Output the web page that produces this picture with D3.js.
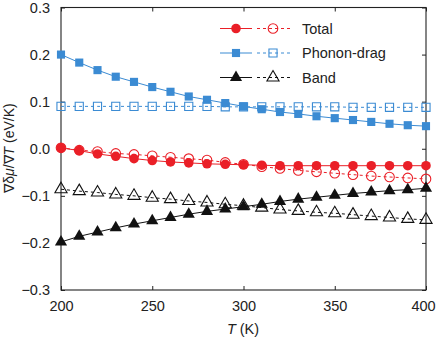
<!DOCTYPE html>
<html>
<head>
<meta charset="utf-8">
<style>
  body { margin: 0; background: #fff; }
  svg { font-family: "Liberation Sans", Arial, sans-serif; }
</style>
</head>
<body>
<svg width="436" height="342"></svg>
<script src="https://cdn.jsdelivr.net/npm/d3@7"></script>
<script>
// temperatures (K)
const temps = [200, 210, 220, 230, 240, 250, 260, 270, 280, 290, 300, 310, 320, 330, 340, 350, 360, 370, 380, 390, 400]
// total: solid (filled) and dashed (open)
const totalSolid = [0.002, -0.004, -0.011, -0.016, -0.021, -0.025, -0.028, -0.030, -0.032, -0.033, -0.034, -0.035, -0.036, -0.036, -0.036, -0.036, -0.036, -0.036, -0.036, -0.036, -0.036]
const totalOpen = [0.002, -0.003, -0.006, -0.010, -0.012, -0.015, -0.018, -0.021, -0.024, -0.029, -0.033, -0.038, -0.042, -0.046, -0.049, -0.052, -0.055, -0.058, -0.060, -0.062, -0.064]
// phonon-drag
const dragSolid = [0.200, 0.183, 0.167, 0.153, 0.142, 0.131, 0.121, 0.111, 0.104, 0.097, 0.090, 0.084, 0.078, 0.074, 0.069, 0.065, 0.061, 0.057, 0.053, 0.050, 0.048]
const dragOpen = [0.090, 0.090, 0.090, 0.090, 0.090, 0.090, 0.090, 0.090, 0.090, 0.089, 0.089, 0.089, 0.089, 0.089, 0.089, 0.089, 0.088, 0.088, 0.088, 0.088, 0.088]
// band
const bandSolid = [-0.198, -0.186, -0.177, -0.168, -0.160, -0.153, -0.146, -0.139, -0.133, -0.128, -0.123, -0.118, -0.112, -0.107, -0.103, -0.099, -0.095, -0.092, -0.089, -0.087, -0.084]
const bandOpen = [-0.086, -0.090, -0.093, -0.097, -0.100, -0.104, -0.107, -0.111, -0.114, -0.118, -0.121, -0.125, -0.129, -0.132, -0.135, -0.137, -0.140, -0.143, -0.146, -0.149, -0.151]

const xTicks = [200, 250, 300, 350, 400]
const yTicks = [-0.3, -0.2, -0.1, 0.0, 0.1, 0.2, 0.3]

const names = ["Total", "Phonon-drag", "Band"]
const colors = ["#ea1f27", "#3b8bd3", "#111111"]
const shapes = [d3.symbolCircle, d3.symbolSquare, d3.symbolTriangle]
const sizes = [72, 66, 64]

const svg = d3.select("svg")
const x = d3.scaleLinear().domain([200, 400]).range([61, 426])
const y = d3.scaleLinear().domain([-0.3, 0.3]).range([290, 7.5])

// frame
svg.append("rect")
  .attr("x", 61).attr("y", 7.5)
  .attr("width", 365).attr("height", 282.5)
  .attr("fill", "none").attr("stroke", "#222").attr("stroke-width", 1.1)

// inward ticks on four sides
const tk = 4
svg.append("g").attr("transform", "translate(0,290)")
  .call(d3.axisBottom(x).tickValues(xTicks).tickSize(-tk).tickFormat(d3.format("d")).tickPadding(11))
svg.append("g").attr("transform", "translate(0,7.5)")
  .call(d3.axisTop(x).tickValues(xTicks).tickSize(-tk).tickFormat(""))
svg.append("g").attr("transform", "translate(61,0)")
  .call(d3.axisLeft(y).tickValues(yTicks).tickSize(-tk).tickFormat(d3.format(".1f")).tickPadding(11))
svg.append("g").attr("transform", "translate(426,0)")
  .call(d3.axisRight(y).tickValues(yTicks).tickSize(-tk).tickFormat(""))
svg.selectAll(".domain").remove()
svg.selectAll(".tick line").attr("stroke", "#222")
svg.selectAll(".tick text").attr("font-size", 14.5).attr("fill", "#222")
  .attr("font-family", "Liberation Sans, Arial, sans-serif")
// keep the last x label inside the window
svg.selectAll(".tick text").filter(d => d === 400).attr("dx", -3)

// axis titles
svg.append("text")
  .attr("transform", "translate(14,148) rotate(-90)")
  .attr("text-anchor", "middle").attr("font-size", 14).attr("fill", "#222")
  .html('∇δ<tspan font-style="italic">μ</tspan>/∇<tspan font-style="italic">T</tspan> (eV/K)')
svg.append("text")
  .attr("x", 243).attr("y", 334)
  .attr("text-anchor", "middle").attr("font-size", 14.5).attr("fill", "#222")
  .html('<tspan font-style="italic">T</tspan> (K)')

const series = [
  [totalSolid, totalOpen],
  [dragSolid, dragOpen],
  [bandSolid, bandOpen]
]
const line = d3.line().x((d, i) => x(temps[i])).y(d => y(d))
const sym = (k) => d3.symbol().type(shapes[k]).size(sizes[k])()

// draw open (dashed) first, then solid
series.forEach((s, k) => {
  const g = svg.append("g")
  g.append("path").datum(s[1])
    .attr("d", line).attr("fill", "none")
    .attr("stroke", colors[k]).attr("stroke-width", 1).attr("stroke-dasharray", "3,3")
  g.selectAll("path.open").data(s[1]).enter().append("path")
    .attr("class", "open")
    .attr("d", sym(k))
    .attr("transform", (d, i) => `translate(${x(temps[i])},${y(d)})`)
    .attr("fill", "none").attr("stroke", colors[k]).attr("stroke-width", 1.1)
})
series.forEach((s, k) => {
  const g = svg.append("g")
  g.append("path").datum(s[0])
    .attr("d", line).attr("fill", "none")
    .attr("stroke", colors[k]).attr("stroke-width", 1)
  g.selectAll("path.fill").data(s[0]).enter().append("path")
    .attr("class", "fill")
    .attr("d", sym(k))
    .attr("transform", (d, i) => `translate(${x(temps[i])},${y(d)})`)
    .attr("fill", colors[k])
})

// legend
const lg = svg.append("g")
names.forEach((n, k) => {
  const ly = 28.5 + k * 24.5
  lg.append("line").attr("x1", 220).attr("x2", 252).attr("y1", ly).attr("y2", ly)
    .attr("stroke", colors[k]).attr("stroke-width", 1)
  lg.append("path").attr("d", sym(k)).attr("transform", `translate(236,${ly})`)
    .attr("fill", colors[k])
  lg.append("line").attr("x1", 257).attr("x2", 291).attr("y1", ly).attr("y2", ly)
    .attr("stroke", colors[k]).attr("stroke-width", 1).attr("stroke-dasharray", "3,3")
  lg.append("path").attr("d", sym(k)).attr("transform", `translate(273,${ly})`)
    .attr("fill", "none").attr("stroke", colors[k]).attr("stroke-width", 1.1)
  lg.append("text").attr("x", 302).attr("y", ly + 5)
    .attr("font-size", 14.5).attr("fill", "#222").text(n)
})
</script>
</body>
</html>
